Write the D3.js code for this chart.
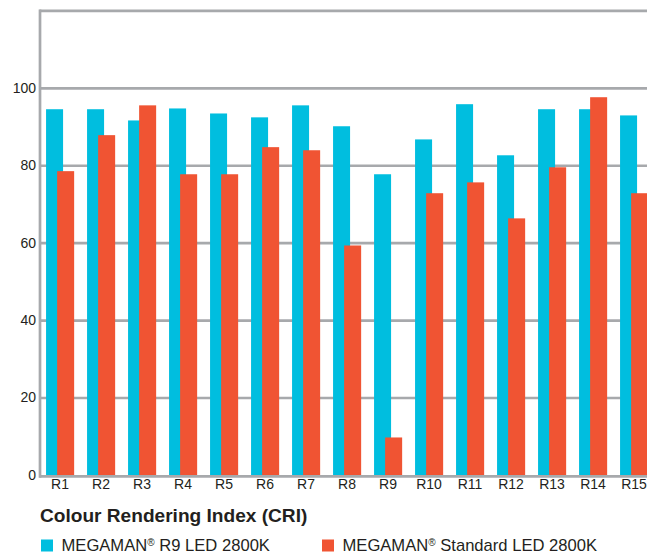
<!DOCTYPE html>
<html>
<head>
<meta charset="utf-8">
<script src="https://cdn.jsdelivr.net/npm/d3@7/dist/d3.min.js"></script>
<style>
  html, body { margin: 0; padding: 0; background: #fff; }
  svg { display: block; font-family: "Liberation Sans", Arial, sans-serif; }
</style>
</head>
<body>
<svg id="chart" width="647" height="554"></svg>
<script>
// Special colour rendering indices R1–R15
const categories = ["R1","R2","R3","R4","R5","R6","R7","R8","R9","R10","R11","R12","R13","R14","R15"];
const r9Led      = [94.6, 94.6, 91.7, 94.8, 93.5, 92.5, 95.6, 90.2, 77.8, 86.8, 95.9, 82.7, 94.6, 94.6, 93.0];
const standardLed = [78.6, 87.9, 95.6, 77.8, 77.8, 84.8, 84.0, 59.4, 9.8, 72.9, 75.7, 66.4, 79.6, 97.7, 72.9];
const yTicks = [0, 20, 40, 60, 80, 100];
const gridValues = [20, 40, 60, 80, 100, 120];
const seriesNames = ["R9 LED 2800K", "Standard LED 2800K"];
const title = "Colour Rendering Index (CRI)";

const BLUE = "#00bedf";
const RED = "#f05433";
const GRID = "#a7a9ac";
const INK = "#231f20";

const svg = d3.select("#chart");

const y = d3.scaleLinear().domain([0, 120]).range([475.4, 10.9]);
const x = d3.scaleBand().domain(categories).range([39.5, 39.5 + 41 * categories.length]).padding(0);
const bw = x.bandwidth();
const barW = bw * 0.415;
const blueOff = bw * 0.16;
const redOff = blueOff + bw * 0.27;

// horizontal gridlines (behind bars)
svg.append("g").selectAll("line")
  .data(gridValues)
  .join("line")
  .attr("x1", 39.5).attr("x2", 660)
  .attr("y1", d => y(d)).attr("y2", d => y(d))
  .attr("stroke", GRID).attr("stroke-width", 2.7);

// bars
const groups = svg.append("g").selectAll("g")
  .data(categories.map((c, i) => ({ c, a: r9Led[i], b: standardLed[i] })))
  .join("g")
  .attr("transform", d => `translate(${x(d.c)},0)`);

groups.append("rect")
  .attr("x", blueOff).attr("width", barW)
  .attr("y", d => y(d.a)).attr("height", d => y(0) - y(d.a))
  .attr("fill", BLUE);

groups.append("rect")
  .attr("x", redOff).attr("width", barW)
  .attr("y", d => y(d.b)).attr("height", d => y(0) - y(d.b))
  .attr("fill", RED);

// baseline and left axis line
svg.append("line")
  .attr("x1", 39.5).attr("x2", 660)
  .attr("y1", y(0) + 1).attr("y2", y(0) + 1)
  .attr("stroke", GRID).attr("stroke-width", 2.7);
svg.append("line")
  .attr("x1", 40).attr("x2", 40)
  .attr("y1", y(120) - 1.3).attr("y2", y(0) + 2.4)
  .attr("stroke", GRID).attr("stroke-width", 2.7);

// y axis labels
const yAxis = svg.append("g")
  .attr("transform", "translate(36,0)")
  .call(d3.axisLeft(y).tickValues(yTicks).tickSize(0).tickPadding(0).tickFormat(d3.format("d")));
yAxis.select(".domain").remove();
yAxis.selectAll("text")
  .attr("font-size", 14).attr("fill", INK)
  .attr("font-family", "Liberation Sans, Arial, sans-serif")
  .attr("dy", "0.28em");

// x axis labels
const xAxis = svg.append("g")
  .attr("transform", `translate(0,${y(0)})`)
  .call(d3.axisBottom(x).tickSize(0).tickPadding(4));
xAxis.select(".domain").remove();
xAxis.selectAll("text")
  .attr("font-size", 14).attr("fill", INK)
  .attr("font-family", "Liberation Sans, Arial, sans-serif");

// title
svg.append("text")
  .attr("x", 40).attr("y", 522)
  .attr("font-size", 19.1).attr("font-weight", "bold").attr("fill", INK)
  .text(title);

// legend
const legendX = [41, 322];
const legendColors = [BLUE, RED];
const legend = svg.append("g").selectAll("g")
  .data(seriesNames)
  .join("g")
  .attr("transform", (d, i) => `translate(${legendX[i]},539.5)`);
legend.append("rect")
  .attr("width", 12).attr("height", 12)
  .attr("fill", (d, i) => legendColors[i]);
const lt = legend.append("text")
  .attr("x", 20.5).attr("y", 11.5)
  .attr("font-size", 16.6).attr("fill", INK);
lt.append("tspan").text("MEGAMAN");
lt.append("tspan").attr("font-size", 10).attr("dy", -5.5).text("®");
lt.append("tspan").attr("dy", 5.5).text(d => " " + d);
</script>
</body>
</html>
